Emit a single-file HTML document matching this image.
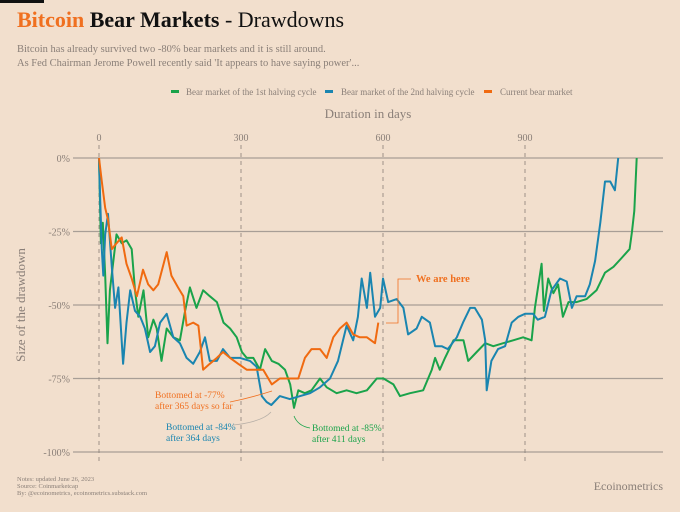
<!DOCTYPE html>
<html><head><meta charset="utf-8"><style>
body{margin:0;background:#f2dfcd;}
svg{display:block;font-family:"Liberation Serif",serif;}
</style></head><body>
<svg id="chart" width="680" height="512" viewBox="0 0 680 512">
<rect x="0" y="0" width="680" height="512" fill="#f2dfcd"/>
<rect x="0" y="0" width="44" height="3" fill="#111"/>
<text x="17" y="27" font-size="22"><tspan fill="#f07020" font-weight="bold">Bitcoin</tspan><tspan fill="#111" font-weight="bold"> Bear Markets</tspan><tspan fill="#111"> - Drawdowns</tspan></text>
<text x="17" y="52" font-size="10.5" fill="#8a7f78">Bitcoin has already survived two -80% bear markets and it is still around.</text>
<text x="17" y="66" font-size="10.5" fill="#8a7f78">As Fed Chairman Jerome Powell recently said 'It appears to have saying power'...</text>
<g font-size="9" fill="#8a7f78">
<g><rect x="171" y="90" width="8" height="3" fill="#1aa34a"/><text x="186" y="95">Bear market of the 1st halving cycle</text></g>
<g><rect x="325" y="90" width="8" height="3" fill="#1a85b0"/><text x="341" y="95">Bear market of the 2nd halving cycle</text></g>
<g><rect x="484" y="90" width="8" height="3" fill="#f06a10"/><text x="500" y="95">Current bear market</text></g>
</g>
<text x="368" y="118" font-size="13" fill="#8a7f78" text-anchor="middle">Duration in days</text>
<text transform="translate(25,305) rotate(-90)" font-size="13" fill="#8a7f78" text-anchor="middle">Size of the drawdown</text>
<g id="grid"></g>
<g id="series"></g>
<g font-size="9.5">
<text x="155" y="398" fill="#f07020"><tspan x="155">Bottomed at -77%</tspan><tspan x="155" dy="11">after 365 days so far</tspan></text>
<path d="M230,402 Q250,398 272,391" fill="none" stroke="#f07020" stroke-width="0.8"/>
<text x="166" y="430" fill="#1a85b0"><tspan x="166">Bottomed at -84%</tspan><tspan x="166" dy="11">after 364 days</tspan></text>
<path d="M233,425 Q262,422 271,412" fill="none" stroke="#b8b0a8" stroke-width="0.8"/>
<text x="312" y="431" fill="#1aa34a"><tspan x="312">Bottomed at -85%</tspan><tspan x="312" dy="11">after 411 days</tspan></text>
<path d="M294,416 Q298,426 310,428" fill="none" stroke="#1aa34a" stroke-width="0.8"/>
<text x="416" y="282" fill="#f07020" font-weight="bold" font-size="10.5">We are here</text>
<path d="M411,279 L398,279 L398,323 L386,323" fill="none" stroke="#f07020" stroke-width="0.8"/>
</g>
<text x="17" y="481" font-size="6.5" fill="#8a7f78">Notes: updated June 26, 2023</text>
<text x="17" y="488" font-size="6.5" fill="#8a7f78">Source: Coinmarketcap</text>
<text x="17" y="495" font-size="6.5" fill="#8a7f78">By: @ecoinometrics, ecoinometrics.substack.com</text>
<text x="663" y="490" font-size="12" fill="#8a7f78" text-anchor="end">Ecoinometrics</text>
</svg>
<script>
const xTicks=[0,300,600,900];
const yTicks=[0,-25,-50,-75,-100];
const greenDays=[0,4,8,13,18,23,37,48,58,69,76,83,94,104,115,122,132,143,157,171,182,192,206,220,234,249,263,277,291,302,312,326,340,351,365,379,393,404,412,421,435,449,467,481,502,523,544,566,587,601,622,636,657,685,703,710,720,731,749,770,780,798,816,833,854,875,896,914,921,935,940,949,960,970,980,992,1009,1030,1051,1069,1087,1104,1121,1126,1131,1136];
const greenVals=[0,-29,-22,-40,-63,-45,-26,-29,-28,-31,-45,-54,-45,-61,-55,-58,-69,-58,-61,-62,-52,-44,-51,-45,-47,-49,-56,-58,-61,-66,-68,-68,-72,-65,-69,-70,-72,-77,-85,-79,-80,-79,-75,-78,-80,-79,-80,-79,-75,-75,-77,-81,-80,-79,-72,-68,-72,-68,-62,-62,-69,-66,-63,-64,-63,-62,-61,-62,-51,-36,-52,-41,-46,-43,-54,-49,-49,-48,-45,-39,-37,-34,-31,-25,-18,0];
const blueDays=[0,2,6,9,13,19,27,34,41,51,58,66,76,87,97,108,118,129,143,157,171,185,199,213,224,234,249,262,277,298,319,333,344,354,364,382,403,425,446,467,488,505,523,537,547,555,566,573,583,594,600,611,629,643,653,671,682,699,710,724,737,756,769,784,794,809,816,819,829,843,858,872,886,900,917,927,942,956,974,988,999,1009,1027,1037,1048,1059,1069,1080,1090,1097];
const blueVals=[0,-11,-31,-40,-26,-19,-37,-51,-44,-70,-56,-45,-52,-54,-58,-66,-64,-56,-53,-61,-63,-68,-70,-66,-61,-69,-69,-65,-68,-68,-69,-71,-81,-83,-84,-81,-82,-81,-80,-78,-75,-69,-57,-62,-54,-41,-51,-39,-54,-51,-41,-49,-48,-51,-60,-58,-54,-56,-64,-64,-65,-61,-56,-51,-51,-55,-62,-79,-69,-65,-64,-56,-54,-53,-53,-55,-54,-45,-41,-42,-51,-47,-47,-43,-35,-22,-8,-8,-11,0];
const orangeDays=[0,6,13,19,27,37,48,58,69,80,93,104,115,125,143,153,167,178,185,199,210,220,234,249,262,277,294,312,325,347,365,382,403,421,435,449,467,481,495,509,523,537,551,566,583,590];
const orangeVals=[0,-8,-17,-21,-31,-29,-27,-36,-41,-47,-38,-43,-45,-43,-32,-40,-44,-47,-57,-56,-57,-72,-70,-68,-66,-68,-70,-72,-72,-72,-77,-75,-75,-75,-68,-65,-65,-68,-61,-58,-56,-60,-61,-61,-63,-56];
const NS='http://www.w3.org/2000/svg';
const X0=99,X1=663,Y0=158,Y1=452;
function xs(d){return X0+d*(142/300);}
function ys(v){return Y0+(-v)*(Y1-Y0)/100;}
const grid=document.getElementById('grid');
yTicks.forEach(t=>{
  const l=document.createElementNS(NS,'line');
  l.setAttribute('x1',73);l.setAttribute('x2',X1);l.setAttribute('y1',ys(t));l.setAttribute('y2',ys(t));
  l.setAttribute('stroke','#a89e96');l.setAttribute('stroke-width','1.2');
  
  
  grid.appendChild(l);
  const tx=document.createElementNS(NS,'text');
  tx.setAttribute('x',70);tx.setAttribute('y',ys(t)+4);tx.setAttribute('text-anchor','end');
  tx.setAttribute('font-size','10');tx.setAttribute('fill','#8a7f78');
  tx.textContent=t+'%';
  
  
  grid.appendChild(tx);
});
xTicks.forEach(t=>{
  const l=document.createElementNS(NS,'line');
  l.setAttribute('x1',xs(t));l.setAttribute('x2',xs(t));l.setAttribute('y1',145);l.setAttribute('y2',465);
  l.setAttribute('stroke','#8a7f78');l.setAttribute('stroke-width','0.8');l.setAttribute('stroke-dasharray','4,4');
  
  
  grid.appendChild(l);
  const tx=document.createElementNS(NS,'text');
  tx.setAttribute('x',xs(t));tx.setAttribute('y',141);tx.setAttribute('text-anchor','middle');
  tx.setAttribute('font-size','10');tx.setAttribute('fill','#8a7f78');
  tx.textContent=t;
  
  
  grid.appendChild(tx);
});
const ser=document.getElementById('series');
function line(days,vals,color,name){
  const p=document.createElementNS(NS,'path');
  p.setAttribute('d',days.map((d,i)=>(i?'L':'M')+xs(d).toFixed(1)+','+ys(vals[i]).toFixed(1)).join(''));
  p.setAttribute('fill','none');p.setAttribute('stroke',color);p.setAttribute('stroke-width','2');p.setAttribute('stroke-linejoin','round');
  
  
  ser.appendChild(p);
}
line(greenDays,greenVals,'#1aa34a','series-1st-halving-cycle');
line(blueDays,blueVals,'#1a85b0','series-2nd-halving-cycle');
line(orangeDays,orangeVals,'#f06a10','series-current-bear-market');
</script>
</body></html>
